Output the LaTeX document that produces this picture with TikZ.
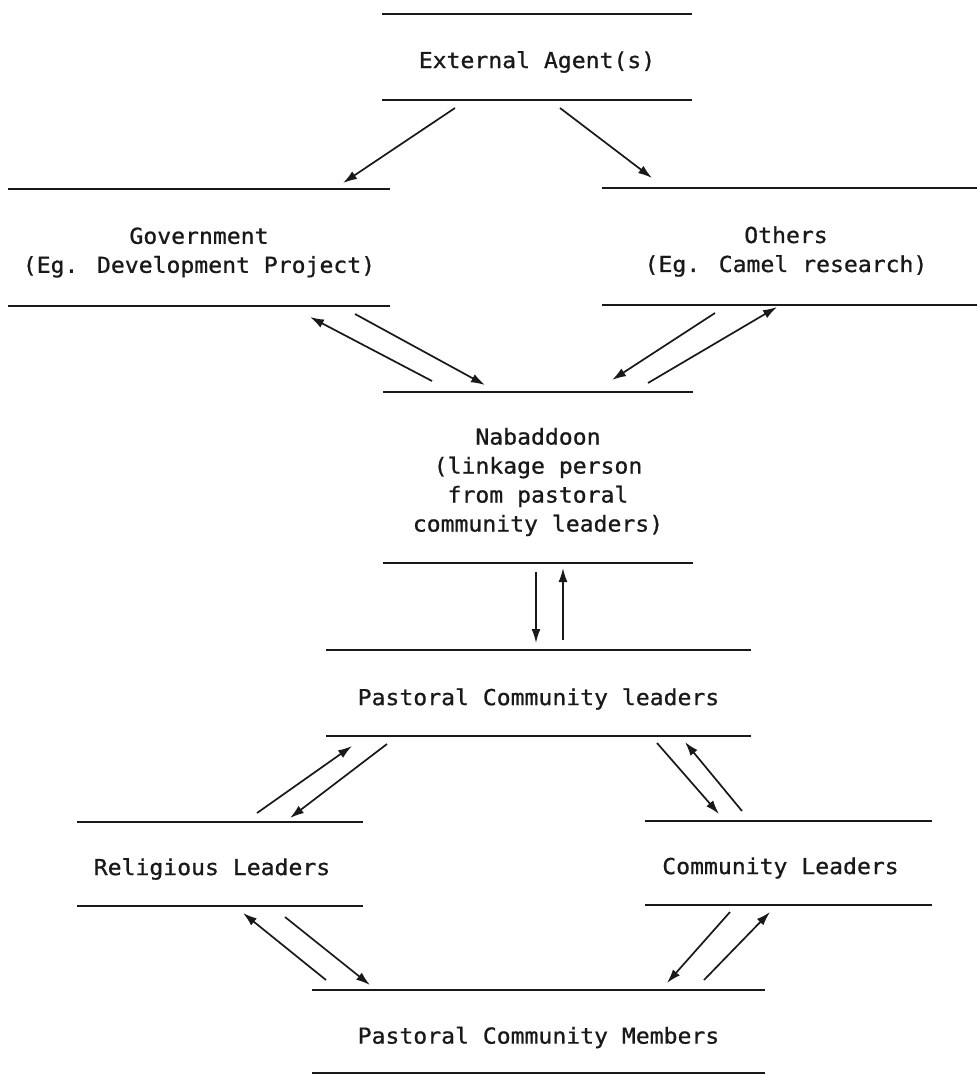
\documentclass[tikz,border=0pt]{standalone}
\usepackage{fontspec}
\newfontfamily\diagmono[FakeStretch=1.05,FakeBold=0.8]{DejaVu Sans Mono}
\usetikzlibrary{arrows.meta}
\definecolor{ink}{RGB}{25,25,25}
\begin{document}
\begin{tikzpicture}[x=1pt,y=-1pt,
  band/.style 2 args={minimum width=#1pt, minimum height=#2pt, inner sep=0pt, outer sep=0pt},
  lbl/.style={font=\fontsize{22pt}{29pt}\selectfont\diagmono, text=ink, align=center, inner sep=0pt},
  bandline/.style={draw=ink, line width=2.3pt},
  arr/.style={draw=ink, line width=1.7pt, -{Latex[length=14pt,width=9pt]}}
]
\useasboundingbox[fill=white] (0,0) rectangle (977,1074);

% bands (text is placed as a label on each band)
\node[band={310}{86}, label={[lbl,yshift=-5pt]center:External Agent(s)}] (ext) at (537,57) {};
\node[band={382}{117}, label={[lbl,yshift=-5pt]center:Government\\(Eg. Development Project)}] (gov) at (199,247.5) {};
\node[band={375}{117}, label={[lbl,yshift=-5pt,xshift=-3.5pt]center:Others\\(Eg. Camel research)}] (oth) at (789.5,246.5) {};
\node[band={310}{171}, label={[lbl,yshift=-4.5pt]center:Nabaddoon\\(linkage person\\from pastoral\\community leaders)}] (nab) at (538,477.5) {};
\node[band={425}{86}, label={[lbl,yshift=-6pt]center:Pastoral Community leaders}] (pcl) at (538.5,693) {};
\node[band={286}{84}, label={[lbl,yshift=-5pt,xshift=-8pt]center:Religious Leaders}] (rel) at (220,864) {};
\node[band={287}{84}, label={[lbl,yshift=-5pt,xshift=-8pt]center:Community Leaders}] (com) at (788.5,863) {};
\node[band={453}{83}, label={[lbl,yshift=-6pt]center:Pastoral Community Members}] (mem) at (538.5,1031.5) {};

% horizontal rules of each band
\foreach \n in {ext,gov,oth,nab,pcl,rel,com,mem}{
  \draw[bandline] (\n.north west) -- (\n.north east);
  \draw[bandline] (\n.south west) -- (\n.south east);
}

% connectors
\draw[arr] ([shift={(-82,8)}]ext.south) -- ([shift={(144,-6)}]gov.north);
\draw[arr] ([shift={(23,8)}]ext.south) -- ([shift={(-137.5,-10)}]oth.north);

\draw[arr] ([shift={(-106,-11)}]nab.north) -- ([shift={(111,11)}]gov.south);
\draw[arr] ([shift={(156,8)}]gov.south) -- ([shift={(-53,-7)}]nab.north);
\draw[arr] ([shift={(-74.5,8)}]oth.south) -- ([shift={(74,-12)}]nab.north);
\draw[arr] ([shift={(110,-9)}]nab.north) -- ([shift={(-12.5,2)}]oth.south);

\draw[arr] ([shift={(-2,9)}]nab.south) -- ([shift={(-2.5,-7)}]pcl.north);
\draw[arr] ([shift={(24.5,-10)}]pcl.north) -- ([shift={(25,5)}]nab.south);

\draw[arr] ([shift={(37,-9)}]rel.north) -- ([shift={(-186.5,10)}]pcl.south);
\draw[arr] ([shift={(-151.5,8)}]pcl.south) -- ([shift={(70,-4)}]rel.north);
\draw[arr] ([shift={(118.5,7)}]pcl.south) -- ([shift={(-69.5,-7)}]com.north);
\draw[arr] ([shift={(-46.5,-10)}]com.north) -- ([shift={(146.5,6)}]pcl.south);

\draw[arr] ([shift={(-212.5,-10)}]mem.north) -- ([shift={(23,7)}]rel.south);
\draw[arr] ([shift={(65,11)}]rel.south) -- ([shift={(-168.5,-5)}]mem.north);
\draw[arr] ([shift={(-58.5,7)}]com.south) -- ([shift={(128.5,-7)}]mem.north);
\draw[arr] ([shift={(165.5,-10)}]mem.north) -- ([shift={(-18.5,7)}]com.south);
\end{tikzpicture}
\end{document}
